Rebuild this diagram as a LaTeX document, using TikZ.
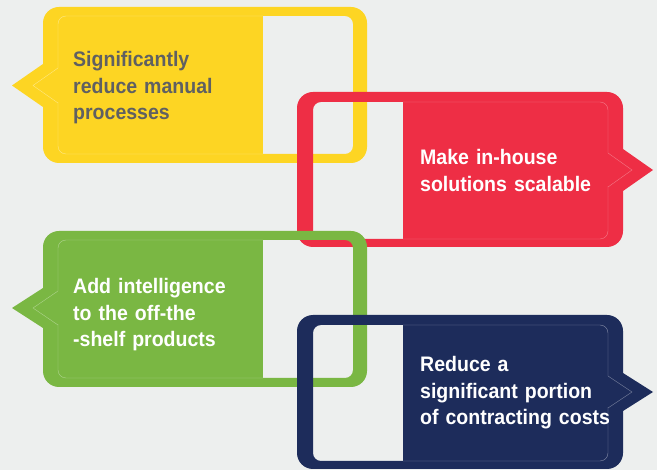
\documentclass[tikz,border=0pt]{standalone}
\usepackage{fontspec}
\setmainfont{Liberation Sans}
\newfontfamily\bubfont[FakeStretch=0.93]{Liberation Sans}
\definecolor{bgc}{HTML}{EDEFEE}
\definecolor{cyel}{HTML}{FDD523}
\definecolor{cred}{HTML}{EE2E45}
\definecolor{cgrn}{HTML}{7AB743}
\definecolor{cnav}{HTML}{1D2C5B}
\definecolor{cgry}{HTML}{5F6062}
\tikzset{
  btext/.style={anchor=base west, inner sep=0pt, text width=230pt, align=left,
    font=\bubfont\bfseries\fontsize{21}{26.5}\selectfont},
  hair/.style={line width=0.4pt},
}
\begin{document}
\begin{tikzpicture}[x=1pt,y=-1pt]
\fill[bgc] (0,0) rectangle (657,470);
\useasboundingbox (0,0) rectangle (657,470);

% ---------- yellow bubble ----------
\fill[cyel, even odd rule] [rounded corners=16pt] (43,7) rectangle (367,163)
   [rounded corners=8pt] (58,16) rectangle (353,154);
\fill[cyel] (58,16) rectangle (263,154);
\fill[cyel] (50,64) -- (43,64) -- (12,85.5) -- (43,107) -- (50,107) -- cycle;
\begin{scope}
  \clip (50,10) rectangle (263,160);
  \draw[hair, cyel!55!white] [rounded corners=8pt] (58,16) rectangle (353,154);
\end{scope}
\draw[cyel, line width=1.5pt] (58,68.5) -- (58,102.5);
\draw[hair, cyel!55!white] (58,68) -- (33,85.5) -- (58,103);

% ---------- red bubble ----------
\fill[cred, even odd rule] [rounded corners=16pt] (297,92) rectangle (623,247)
   [rounded corners=8pt] (313,102) rectangle (608,239);
\fill[cred] (403,102) rectangle (608,239);
\fill[cred] (615,149) -- (623,149) -- (653,170) -- (623,191) -- (615,191) -- cycle;
\begin{scope}
  \clip (403,95) rectangle (620,245);
  \draw[hair, cred!65!white] [rounded corners=8pt] (313,102) rectangle (608,239);
\end{scope}
\draw[cred, line width=1.5pt] (608,153.5) -- (608,186.5);
\draw[hair, cred!65!white] (608,153) -- (632,170) -- (608,187);

% ---------- green bubble ----------
\fill[cgrn, even odd rule] [rounded corners=16pt] (43,231) rectangle (367,387)
   [rounded corners=8pt] (58,240) rectangle (353,378);
\fill[cgrn] (58,240) rectangle (263,378);
\fill[cgrn] (50,288) -- (43,288) -- (12,308) -- (43,328) -- (50,328) -- cycle;
\begin{scope}
  \clip (50,235) rectangle (263,384);
  \draw[hair, cgrn!60!white] [rounded corners=8pt] (58,240) rectangle (353,378);
\end{scope}
\draw[cgrn, line width=1.5pt] (58,291.5) -- (58,324.5);
\draw[hair, cgrn!60!white] (58,291) -- (33,308) -- (58,325);

% ---------- navy bubble ----------
\fill[cnav, even odd rule] [rounded corners=16pt] (297,315) rectangle (623,469)
   [rounded corners=8pt] (313,325) rectangle (608,461);
\fill[cnav] (403,325) rectangle (608,461);
\fill[cnav] (615,373) -- (623,373) -- (653,392) -- (623,411) -- (615,411) -- cycle;
\begin{scope}
  \clip (403,318) rectangle (620,467);
  \draw[hair, cnav!55!white] [rounded corners=8pt] (313,325) rectangle (608,461);
\end{scope}
\draw[cnav, line width=1.5pt] (608,376.5) -- (608,407.5);
\draw[hair, cnav!55!white] (608,376) -- (632,392) -- (608,408);

% ---------- texts ----------
\node[btext, text=cgry] (tyel) at (73,67) {Significantly\\reduce manual\\processes};
\node[btext, text=white] (tred) at (420,165) {Make in-house\\solutions scalable};
\node[btext, text=white] (tgrn) at (73,294) {Add intelligence\\to the off-the\\-shelf products};
\node[btext, text=white] (tnav) at (420,372) {Reduce a\\significant portion\\of contracting costs};
\end{tikzpicture}
\end{document}
